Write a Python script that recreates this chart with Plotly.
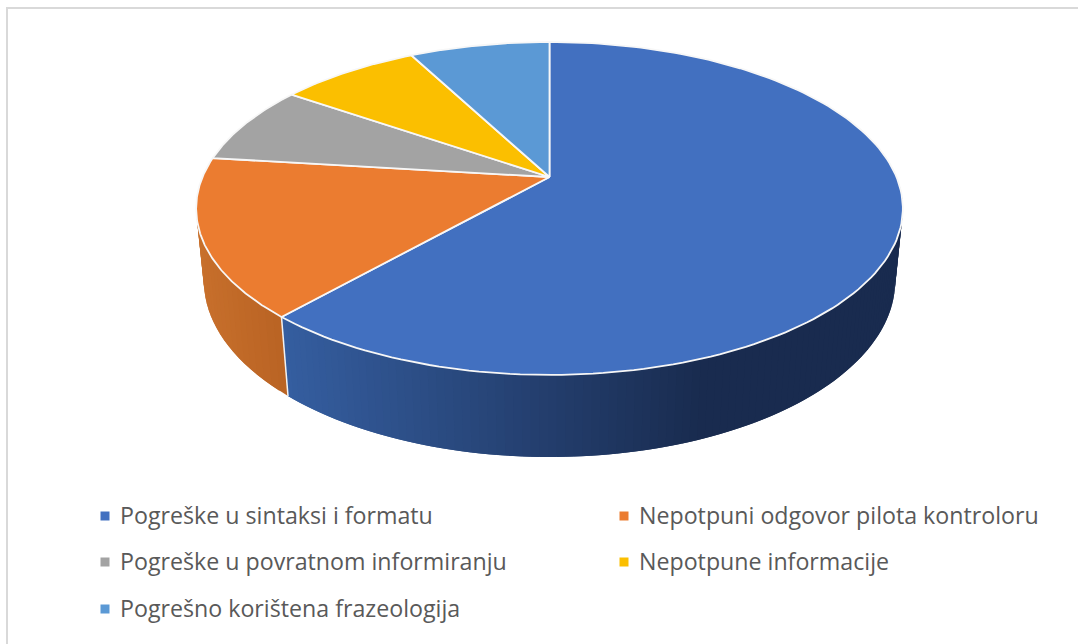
"""3D pie of readback error types, drawn as projected polygons."""

import numpy as np
import plotly.graph_objects as go

CATEGORIES = [
    "Pogreške u sintaksi i formatu",
    "Nepotpuni odgovor pilota kontroloru",
    "Pogreške u povratnom informiranju",
    "Nepotpune informacije",
    "Pogrešno korištena frazeologija",
]
VALUES = [8, 2, 1, 1, 1]
COLORS = ["#4270C0", "#EB7C30", "#A3A3A3", "#FBBF00", "#5B99D5"]
# wall shading: colours at the left and right end of the gradient
WALL_SHADES = {
    0: ((53, 94, 160), (25, 43, 79)),
    1: ((200, 112, 44), (186, 100, 36)),
}
WALL_X = {0: (288, 705), 1: (197, 285)}

# projection of the pie disc (pixels of the 1078x644 picture)
CX, CY = 549.5, 177
A, B = 347, 160.5
K = 0.189
DEPTH, DROP = 0.0214, 72.6


def project(theta, bottom=False):
    """theta clockwise from 12 o'clock -> picture x, y."""
    x, y = np.sin(theta), np.cos(theta)
    w = 1 + K * y + (DEPTH if bottom else 0)
    h = DROP if bottom else 0
    return CX + A * x / w, CY + (-B * y + h) / w


def mix(c0, c1, t):
    t = min(max(t, 0), 1)
    return "rgb(%d,%d,%d)" % tuple(round(a + (b - a) * t) for a, b in zip(c0, c1))


shares = np.array(VALUES) / sum(VALUES) * 2 * np.pi
edges = np.concatenate([[0], np.cumsum(shares)])

fig = go.Figure()

# side wall, thin strips for the gradient. Blue runs clockwise so its dark
# end comes first; every strip is overlapped by the next one to hide seams.
for i, (c0, c1) in WALL_SHADES.items():
    start, stop = max(edges[i], np.pi * 0.45), min(edges[i + 1], np.pi * 1.55)
    steps = np.linspace(start, stop, 120 if i == 0 else 30)
    left, right = WALL_X[i]
    for t0, t1 in zip(steps[:-1], np.append(steps[2:], stop)):
        xt, yt = project(np.array([t0, t1]))
        xb, yb = project(np.array([t1, t0]), bottom=True)
        color = mix(c0, c1, ((xt[0] + xb[1]) / 2 - left) / (right - left))
        fig.add_trace(go.Scatter(
            x=list(xt) + list(xb),
            y=list(yt) + list(yb),
            fill="toself",
            fillcolor=color,
            mode="lines",
            line=dict(width=0),
            hoverinfo="skip",
            showlegend=False,
        ))

# white seam between the two wall segments
seam = edges[1]
xt, yt = project(seam)
xb, yb = project(seam, bottom=True)
fig.add_trace(go.Scatter(
    x=[xt, xb], y=[yt, yb], mode="lines",
    line=dict(color="#f2f2f2", width=1.5),
    hoverinfo="skip", showlegend=False,
))

# top face
for i, name in enumerate(CATEGORIES):
    arc = np.linspace(edges[i], edges[i + 1], 160)
    ax, ay = project(arc)
    fig.add_trace(go.Scatter(
        x=[CX, *ax, CX],
        y=[CY, *ay, CY],
        fill="toself",
        fillcolor=COLORS[i],
        mode="lines",
        line=dict(color="#f7f7f7", width=1.8),
        name=name,
        hovertemplate=f"{name}: {VALUES[i]}<extra></extra>",
        showlegend=False,
    ))

# legend in two columns
LEGEND_X = [105, 624, 105, 624, 105]
LEGEND_Y = [516, 516, 562, 562, 609]
for i, name in enumerate(CATEGORIES):
    fig.add_trace(go.Scatter(
        x=[LEGEND_X[i]], y=[LEGEND_Y[i]],
        mode="markers",
        marker=dict(symbol="square", size=9, color=COLORS[i]),
        hoverinfo="skip", showlegend=False,
    ))
    fig.add_annotation(
        x=LEGEND_X[i] + 13, y=LEGEND_Y[i] - 1, text=name, showarrow=False,
        xanchor="left", yanchor="middle",
        font=dict(family="Open Sans", size=23.2, color="#595959"),
    )

fig.update_layout(
    width=1078,
    height=644,
    margin=dict(t=0, b=0, l=0, r=0),
    paper_bgcolor="white",
    plot_bgcolor="white",
    xaxis=dict(range=[0, 1078], visible=False, fixedrange=True),
    yaxis=dict(range=[644, 0], visible=False, fixedrange=True),
    shapes=[dict(type="rect", x0=7, y0=8, x1=1090, y1=660,
                 line=dict(color="#d9d9d9", width=2))],
)

fig.write_html("out.html", config={"displayModeBar": False},
               post_script="document.body.style.margin='0';")
